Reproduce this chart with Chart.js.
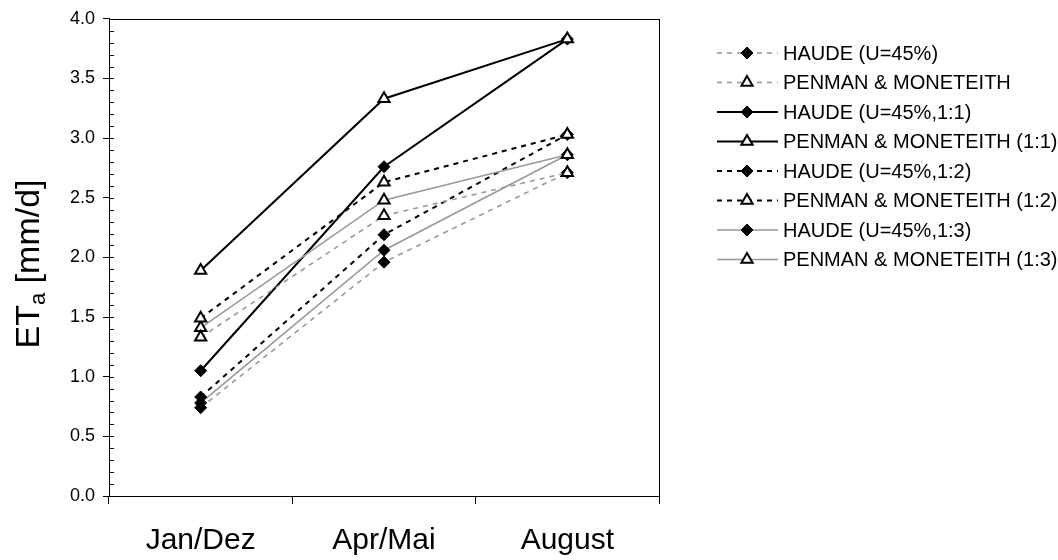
<!DOCTYPE html>
<html>
<head>
<meta charset="utf-8">
<script src="https://cdn.jsdelivr.net/npm/chart.js@4/dist/chart.umd.min.js"></script>
<style>
  html, body { margin: 0; padding: 0; background: #fff; }
  #wrap { width: 1058px; height: 560px; }
</style>
</head>
<body>
<div id="wrap"><canvas id="grafica" width="1058" height="560"></canvas></div>
<script>
  // Monate (Kategorien) und ET_a-Werte in mm/d
  const monate = ['Jan/Dez', 'Apr/Mai', 'August'];

  const haude45      = [0.74, 1.96, 2.71];
  const penman       = [1.33, 2.35, 2.71];
  const haude11      = [1.05, 2.76, 3.83];
  const penman11     = [1.89, 3.33, 3.83];
  const haude12      = [0.83, 2.19, 3.03];
  const penman12     = [1.49, 2.63, 3.03];
  const haude13      = [0.78, 2.06, 2.86];
  const penman13     = [1.41, 2.48, 2.86];

  const serienNamen = [
    'HAUDE (U=45%)', 'PENMAN & MONETEITH',
    'HAUDE (U=45%,1:1)', 'PENMAN & MONETEITH (1:1)',
    'HAUDE (U=45%,1:2)', 'PENMAN & MONETEITH (1:2)',
    'HAUDE (U=45%,1:3)', 'PENMAN & MONETEITH (1:3)'
  ];

  const SCHRIFT = '"Liberation Sans", Arial, sans-serif';
  const GRAU = '#999999';
  const STRICH = [5, 5];

  // Linienart je Variante: grau gestrichelt, schwarz, schwarz gestrichelt, grau
  function serie(name, werte, farbe, dash, raute) {
    return {
      label: name,
      data: werte,
      borderColor: farbe,
      borderWidth: farbe === GRAU ? 1.6 : 2,
      borderDash: dash,
      pointStyle: raute ? 'rectRot' : 'triangle',
      pointRadius: raute ? 6 : 6.5,
      pointBackgroundColor: raute ? '#000' : '#fff',
      pointBorderColor: '#000',
      pointBorderWidth: raute ? 1 : 2,
      tension: 0,
      order: raute ? 1 : 0
    };
  }

  const datensaetze = [
    serie(serienNamen[0], haude45,  GRAU,   STRICH, true),
    serie(serienNamen[1], penman,   GRAU,   STRICH, false),
    serie(serienNamen[2], haude11,  '#000', [],     true),
    serie(serienNamen[3], penman11, '#000', [],     false),
    serie(serienNamen[4], haude12,  '#000', STRICH, true),
    serie(serienNamen[5], penman12, '#000', STRICH, false),
    serie(serienNamen[6], haude13,  GRAU,   [],     true),
    serie(serienNamen[7], penman13, GRAU,   [],     false)
  ];

  // Marker für die Legende (gleiche Form wie in den Linien)
  function marker(ctx, ds, x, y) {
    const r = ds.pointRadius;
    ctx.save();
    ctx.setLineDash([]);
    ctx.beginPath();
    if (ds.pointStyle === 'rectRot') {
      ctx.moveTo(x, y - r); ctx.lineTo(x + r, y); ctx.lineTo(x, y + r); ctx.lineTo(x - r, y);
    } else {
      const h = Math.sqrt(3) / 2 * r;
      ctx.moveTo(x, y - r); ctx.lineTo(x + h, y + r / 2); ctx.lineTo(x - h, y + r / 2);
    }
    ctx.closePath();
    ctx.fillStyle = ds.pointBackgroundColor;
    ctx.fill();
    ctx.lineWidth = ds.pointBorderWidth;
    ctx.strokeStyle = ds.pointBorderColor;
    ctx.stroke();
    ctx.restore();
  }

  const rahmenUndBeschriftung = {
    id: 'rahmenUndBeschriftung',
    afterDraw(chart) {
      const { ctx, chartArea: a, scales } = chart;
      ctx.save();

      // Rahmen um die Zeichenfläche
      ctx.strokeStyle = '#000';
      ctx.lineWidth = 1;
      ctx.strokeRect(Math.round(a.left) + 0.5, Math.round(a.top) + 0.5,
        Math.round(a.right - a.left), Math.round(a.bottom - a.top));

      // Hilfsstriche (0.1) nach innen an der y-Achse
      const y = scales.y;
      for (let i = 0; i <= 40; i++) {
        const py = Math.round(y.getPixelForValue(i / 10)) + 0.5;
        ctx.beginPath();
        ctx.moveTo(a.left, py);
        ctx.lineTo(a.left + 5, py);
        ctx.stroke();
      }

      // Achsentitel ET_a [mm/d]
      ctx.fillStyle = '#000';
      ctx.textBaseline = 'alphabetic';
      ctx.translate(39, 264);
      ctx.rotate(-Math.PI / 2);
      const gross = '34px ' + SCHRIFT, klein = '22px ' + SCHRIFT;
      ctx.font = gross; const w1 = ctx.measureText('ET').width;
      ctx.font = klein; const w2 = ctx.measureText('a').width;
      ctx.font = gross; const w3 = ctx.measureText(' [mm/d]').width;
      let x0 = -(w1 + w2 + w3) / 2;
      ctx.fillText('ET', x0, 0);
      ctx.font = klein; ctx.fillText('a', x0 + w1, 6);
      ctx.font = gross; ctx.fillText(' [mm/d]', x0 + w1 + w2, 0);
      ctx.restore();

      // Legende rechts
      ctx.save();
      ctx.font = '20px ' + SCHRIFT;
      ctx.textBaseline = 'middle';
      ctx.fillStyle = '#000';
      chart.data.datasets.forEach((ds, i) => {
        const ly = 53 + i * 29.5;
        ctx.beginPath();
        ctx.setLineDash(ds.borderDash);
        ctx.strokeStyle = ds.borderColor;
        ctx.lineWidth = ds.borderWidth;
        ctx.moveTo(717, ly);
        ctx.lineTo(778, ly);
        ctx.stroke();
        marker(ctx, ds, 747, ly);
        ctx.fillText(ds.label, 783, ly + 1);
      });
      ctx.restore();
    }
  };

  new Chart(document.getElementById('grafica'), {
    type: 'line',
    data: { labels: monate, datasets: datensaetze },
    options: {
      responsive: false,
      animation: false,
      layout: { padding: { left: 0, top: 16, right: 399, bottom: 0 } },
      plugins: { legend: { display: false }, tooltip: { enabled: false } },
      scales: {
        x: {
          offset: true,
          grid: { offset: true, drawOnChartArea: false, tickLength: 8, color: '#000' },
          border: { color: '#000', width: 1 },
          ticks: { color: '#000', font: { family: SCHRIFT, size: 30 }, padding: 19, maxRotation: 0 },
          afterFit: (s) => { s.height = 64; }
        },
        y: {
          min: 0, max: 4,
          grid: { drawOnChartArea: false, tickLength: 6, color: '#000' },
          border: { color: '#000', width: 1 },
          ticks: {
            stepSize: 0.5, color: '#000', padding: 8,
            font: { family: SCHRIFT, size: 18 },
            callback: (v) => Number(v).toFixed(1)
          },
          afterFit: (s) => { s.width = 109; }
        }
      }
    },
    plugins: [rahmenUndBeschriftung]
  });
</script>
</body>
</html>
